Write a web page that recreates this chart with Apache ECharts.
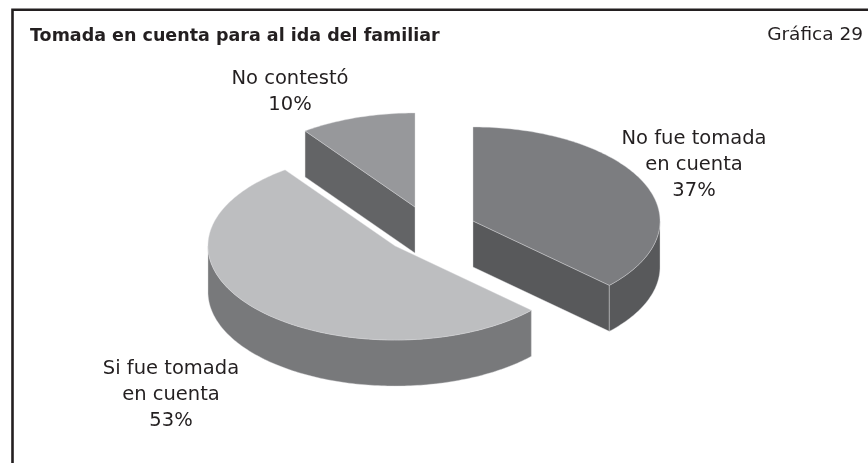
<!DOCTYPE html>
<html>
<head>
<meta charset="utf-8">
<style>
    html, body { margin: 0; padding: 0; background: #fff; }
    #chart { width: 868px; height: 463px; }
</style>
<script src="https://cdn.jsdelivr.net/npm/echarts@6/dist/echarts.min.js"></script>
</head>
<body>
<div id="chart"></div>
<script>
const categories = ['No fue tomada\nen cuenta', 'Si fue tomada\nen cuenta', 'No contestó'];
const values = [37, 53, 10];
const chartTitle = 'Tomada en cuenta para al ida del familiar';
const chartNumber = 'Gráfica 29';

const topColors = ['#7c7d80', '#bdbec0', '#97989b'];
const sideColors = ['#58595b', '#78797b', '#636466'];
// each slice has been pulled out of the pie, so it has its own centre
const centers = [[473, 221], [395, 246], [415, 207]];
const labelPos = [[694, 165], [171, 395], [290, 92]];
const rx = 187, ry = 94, depth = 46;
const drawOrder = [2, 0, 1];
const fontName = '"DejaVu Sans", sans-serif';

const total = values.reduce((a, b) => a + b, 0);
const startAngles = [];
values.reduce((sum, v, i) => { startAngles[i] = sum / total * 360; return sum + v; }, 0);

function onEllipse(c, deg, dy) {
    let t = deg * Math.PI / 180;
    return [c[0] + rx * Math.sin(t), c[1] - ry * Math.cos(t) + dy];
}

function arc(c, from, to, dy) {
    let pts = [];
    for (let d = from; d < to; d += 1) pts.push(onEllipse(c, d, dy));
    pts.push(onEllipse(c, to, dy));
    return pts;
}

function poly(points, fill, z) {
    return {
        type: 'polygon',
        shape: {points: points},
        z2: z,
        style: {fill: fill, stroke: '#d9dadb', lineWidth: 0.4}
    };
}

function renderSlice(params, api) {
    let i = api.value(0);
    let c = centers[i];
    let a0 = startAngles[i];
    let a1 = a0 + api.value(1) / total * 360;
    let side = sideColors[i];
    let children = [];

    // cut faces, only the ones turned to the viewer
    [a0, a1].forEach((a, k) => {
        let s = Math.sin(a * Math.PI / 180);
        if ((k == 0 && s < -0.001) || (k == 1 && s > 0.001)) {
            let p = onEllipse(c, a, 0);
            let q = onEllipse(c, a, depth);
            children.push(poly([c, p, q, [c[0], c[1] + depth]], side, 1));
        }
    });

    // outer rim, the part on the front half of the ellipse
    let from = Math.max(a0, 90), to = Math.min(a1, 270);
    if (from < to) {
        let upper = arc(c, from, to, 0);
        let lower = arc(c, from, to, depth).reverse();
        children.push(poly(upper.concat(lower), side, 2));
    }

    // top face
    children.push(poly([c].concat(arc(c, a0, a1, 0)), topColors[i], 3));

    children.push({
        type: 'text',
        z2: 4,
        style: {
            x: labelPos[i][0],
            y: labelPos[i][1],
            text: categories[i] + '\n' + Math.round(api.value(1) / total * 100) + '%',
            fontFamily: fontName,
            fontSize: 19.5,
            lineHeight: 26,
            align: 'center',
            verticalAlign: 'middle',
            fill: '#231f20'
        }
    });
    return {type: 'group', children: children};
}

let myEcharts = echarts.init(document.getElementById('chart'), null, {renderer: 'canvas'});
let option = {
    animation: false,
    backgroundColor: '#fff',
    title: [
        {
            text: chartTitle,
            left: 30,
            top: 27,
            padding: 0,
            textStyle: {fontFamily: fontName, fontSize: 17.5, fontWeight: 'bold', color: '#231f20'}
        },
        {
            text: chartNumber,
            right: 5,
            top: 26,
            padding: 0,
            textStyle: {fontFamily: fontName, fontSize: 18.5, fontWeight: 'normal', color: '#231f20'}
        }
    ],
    graphic: [{
        type: 'polyline',
        shape: {points: [[12.5, 463], [12.5, 9.75], [868, 9.75]]},
        style: {stroke: '#231f20', lineWidth: 2.6, fill: null}
    }],
    series: [{
        type: 'custom',
        coordinateSystem: 'none',
        renderItem: renderSlice,
        encode: {value: 1},
        data: drawOrder.map(i => [i, values[i]])
    }]
};
myEcharts.setOption(option);
</script>
</body>
</html>
